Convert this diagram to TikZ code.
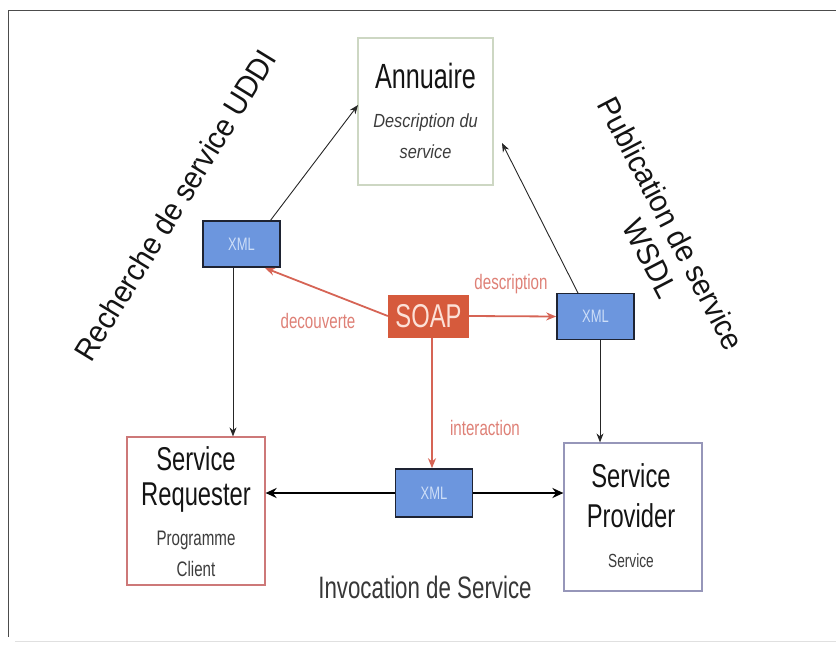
\documentclass[tikz,border=0pt]{standalone}
\usepackage{fontspec}
\setmainfont{Liberation Sans}
\newfontfamily\nar[FakeStretch=0.72]{Liberation Sans}
\newfontfamily\semi[FakeStretch=0.86]{Liberation Sans}
\newfontfamily\rot[FakeStretch=0.93]{Liberation Sans}
\usetikzlibrary{arrows.meta}
\definecolor{xmlfill}{RGB}{108,150,222}
\definecolor{xmlborder}{RGB}{30,35,50}
\definecolor{xmltext}{RGB}{205,222,248}
\definecolor{soapfill}{RGB}{214,90,60}
\definecolor{soaptext}{RGB}{252,225,215}
\definecolor{redline}{RGB}{214,100,85}
\definecolor{redtext}{RGB}{222,128,118}
\definecolor{anncol}{RGB}{205,215,195}
\definecolor{reqcol}{RGB}{205,120,120}
\definecolor{provcol}{RGB}{150,150,185}
\definecolor{maintext}{RGB}{20,20,20}
\definecolor{subtext}{RGB}{60,60,60}
\begin{document}
\begin{tikzpicture}[x=1pt,y=-1pt,
  xmlbox/.style={draw=xmlborder, line width=1.6pt, fill=xmlfill, minimum width=77pt, minimum height=46pt, inner sep=0pt, text=xmltext, font=\nar\fontsize{18}{18}\selectfont},
  bigbox/.style={line width=1.2pt, minimum width=138pt, minimum height=148pt, inner sep=0pt},
  bigtxt/.style={anchor=base, inner sep=0pt, text=maintext, font=\nar\fontsize{33}{33}\selectfont},
  smalltxt/.style={anchor=base, inner sep=0pt, text=subtext, font=\nar\fontsize{21}{21}\selectfont},
  redlbl/.style={inner sep=0pt, text=redtext, font=\nar\fontsize{21}{21}\selectfont},
  rottxt/.style={inner sep=0pt, text=maintext, font=\rot\fontsize{31}{31}\selectfont},
  thin/.style={draw=black!85, line width=0.9pt, -{Stealth[length=9pt,width=7pt]}},
  redarr/.style={draw=redline, line width=1.8pt, -{Stealth[length=10pt,width=8pt]}},
  thick/.style={draw=black, line width=2.2pt, -{Stealth[length=11pt,width=10pt]}}
]
\useasboundingbox (0,0) rectangle (836,645);
% frame
\draw[black!70, line width=1pt] (8,10) -- (836,10);
\draw[black!70, line width=1pt] (8,10) -- (8,637);
\draw[black!12, line width=1pt] (15,641) -- (836,641);

% Annuaire
\node[bigbox, draw=anncol, minimum width=135pt, minimum height=147pt] (ann) at (425.5,111.5) {};
\node[bigtxt, font=\nar\fontsize{35}{35}\selectfont] (annT) at (425.5,88) {Annuaire};
\node[anchor=base, inner sep=0pt, text=subtext, font=\semi\itshape\fontsize{19}{19}\selectfont] (annD1) at (425.5,127) {Description du};
\node[anchor=base, inner sep=0pt, text=subtext, font=\semi\itshape\fontsize{19}{19}\selectfont] (annD2) at (425.5,158) {service};

% Service Requester
\node[bigbox, draw=reqcol] (req) at (196,511) {};
\node[bigtxt] (reqT1) at (196,470) {Service};
\node[bigtxt] (reqT2) at (196,505) {Requester};
\node[smalltxt] (reqT3) at (196,545) {Programme};
\node[smalltxt] (reqT4) at (196,576) {Client};

% Service Provider
\node[bigbox, draw=provcol] (prov) at (633,517) {};
\node[bigtxt] (provT1) at (631,487) {Service};
\node[bigtxt] (provT2) at (631,527) {Provider};
\node[smalltxt, font=\nar\fontsize{19}{19}\selectfont] (provT3) at (631,567) {Service};

% XML boxes
\node[xmlbox] (xl) at (241.5,244) {XML};
\node[xmlbox] (xr) at (595.5,316.5) {XML};
\node[xmlbox, minimum height=48pt] (xm) at (434,493) {XML};

% SOAP
\node[fill=soapfill, minimum width=81pt, minimum height=43pt, inner sep=0pt, text=soaptext, font=\nar\fontsize{33}{33}\selectfont] (soap) at (428.5,316) {SOAP};

% Invocation
\node[anchor=base, inner sep=0pt, text=maintext!85, font=\nar\fontsize{31}{31}\selectfont] (inv) at (425,598) {Invocation de Service};

% rotated labels
\node[rottxt, rotate=58.5] (rech) at (175,205) {Recherche de service UDDI};
\node[rottxt, rotate=-62.5, font=\rot\fontsize{31}{31}\selectfont] (pub1) at (671.5,223.5) {Publication de service};
\node[rottxt, rotate=-62.5] (pub2) at (650.5,258.5) {WSDL};

% red labels
\node[redlbl] (ldec) at (318,321) {decouverte};
\node[redlbl] (ldesc) at (511,284) {description};
\node[redlbl] (lint) at (485,428) {interaction};

% coordinates
\coordinate (xlTop) at (270,221);
\coordinate (annL) at (358,105);
\coordinate (xrTop) at (578,293);
\coordinate (annR) at (502,143);
\coordinate (xlTip) at (265,268);

% black thin arrows
\draw[thin] (xlTop) -- (annL);
\draw[thin] (xrTop) -- (annR);
\draw[thin] (xl.south -| 233,0) -- (req.north -| 233,0);
\draw[thin] (xr.south -| 600,0) -- (prov.north -| 600,0);

% red arrows
\draw[redarr] (soap.west) -- (xlTip);
\draw[redarr] (soap.east) -- (xr.west);
\draw[redarr] (soap.south -| 432,0) -- (xm.north -| 432,0);

% thick arrows
\draw[thick] (xm.west) -- (req.east |- xm.west);
\draw[thick] (xm.east) -- (prov.west |- xm.east);
\end{tikzpicture}
\end{document}
